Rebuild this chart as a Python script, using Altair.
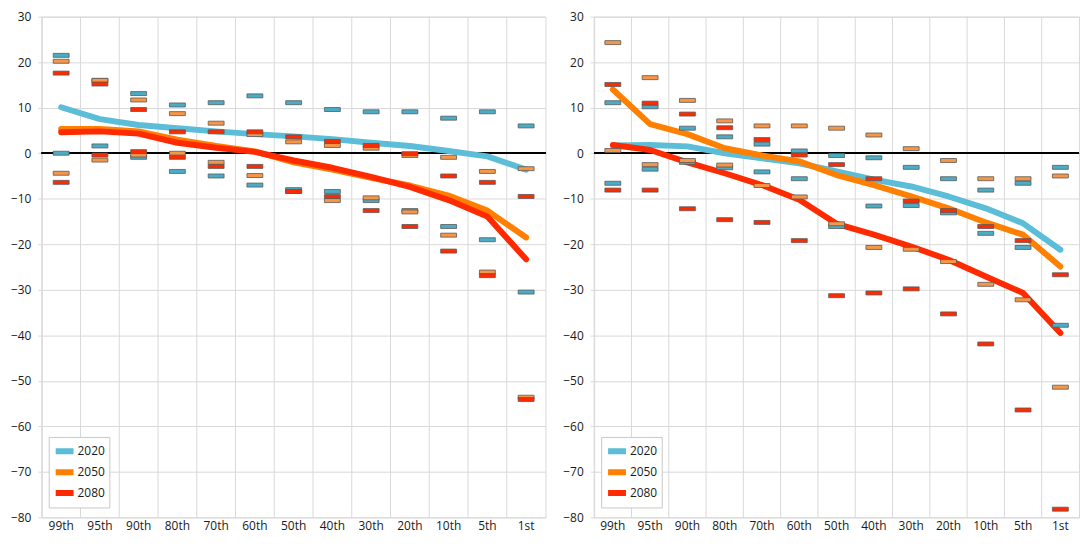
import altair as alt
import pandas as pd

categories = ["99th", "95th", "90th", "80th", "70th", "60th", "50th",
              "40th", "30th", "20th", "10th", "5th", "1st"]
series = ["2020", "2050", "2080"]

# ---- left panel: central lines ----
left_2020 = [10.1, 7.5, 6.2, 5.5, 4.8, 4.2, 3.7, 3.1, 2.3, 1.6, 0.5, -0.7, -3.6]
left_2050 = [5.3, 5.3, 4.8, 3.0, 1.6, 0.4, -2.0, -3.6, -5.4, -7.1, -9.3, -12.6, -18.5]
left_2080 = [4.6, 4.8, 4.3, 2.3, 1.2, 0.3, -1.6, -3.2, -5.2, -7.4, -10.3, -13.9, -23.3]
# ---- left panel: high / low markers ----
left_hi_2020 = [21.5, 16.0, 13.1, 10.6, 11.1, 12.6, 11.1, 9.6, 9.1, 9.1, 7.7, 9.1, 6.0]
left_lo_2020 = [0.0, 1.6, -0.9, -4.0, -5.0, -7.0, -8.0, -8.4, -10.4, -12.6, -16.1, -19.0, -30.5]
left_hi_2050 = [20.2, 16.0, 11.7, 8.7, 6.6, 4.1, 2.5, 1.7, 1.1, -0.5, -0.9, -4.0, -3.4]
left_lo_2050 = [-4.4, -1.5, -0.4, 0.0, -2.0, -4.9, -8.4, -10.4, -9.8, -12.9, -18.0, -26.1, -53.6]
left_hi_2080 = [17.6, 15.2, 9.6, 4.7, 4.7, 4.7, 3.6, 2.6, 1.7, -0.1, -5.0, -6.4, -9.5]
left_lo_2080 = [-6.4, -0.4, 0.35, -0.9, -2.9, -2.9, -8.4, -9.5, -12.6, -16.1, -21.5, -26.9, -54.1]

# ---- right panel: central lines ----
right_2020 = [1.7, 1.8, 1.5, 0.0, -1.1, -2.2, -4.0, -5.8, -7.3, -9.5, -12.1, -15.4, -21.2]
right_2050 = [14.0, 6.4, 4.2, 1.1, -0.5, -1.8, -4.8, -7.0, -9.5, -12.1, -15.2, -17.9, -24.9]
right_2080 = [1.8, 0.7, -2.0, -4.4, -7.0, -10.2, -15.5, -17.9, -20.5, -23.4, -27.1, -30.7, -39.5]
# ---- right panel: high / low markers ----
right_hi_2020 = [11.1, 10.2, 5.5, 3.6, 2.0, 0.5, -0.5, -1.0, -3.1, -5.6, -8.1, -6.6, -3.1]
right_lo_2020 = [-6.6, -3.5, -2.0, -3.2, -4.1, -5.6, -16.1, -11.6, -11.5, -13.1, -17.6, -20.7, -37.8]
right_hi_2050 = [24.3, 16.6, 11.6, 7.1, 6.0, 6.0, 5.5, 4.0, 1.0, -1.6, -5.6, -5.6, -5.0]
right_lo_2050 = [0.6, -2.5, -1.6, -2.6, -7.1, -9.6, -15.5, -20.7, -21.1, -23.8, -28.8, -32.2, -51.4]
right_hi_2080 = [15.1, 11.0, 8.6, 5.6, 3.0, -0.4, -2.5, -5.6, -10.5, -12.6, -16.1, -19.2, -26.7]
right_lo_2080 = [-8.1, -8.1, -12.2, -14.6, -15.2, -19.2, -31.3, -30.7, -29.8, -35.3, -41.9, -56.4, -78.2]

line_colors = ["#5bbdd7", "#ff8000", "#ff2a00"]
marker_colors = ["#4bacc6", "#f79646", "#ff2a00"]
FONT = "Open Sans"
GRID = "#d9d9d9"
LABEL = "#1a1a1a"


def x_enc(**kw):
    return alt.X(
        "cat:N", sort=categories,
        scale=alt.Scale(paddingInner=0, paddingOuter=0),
        axis=alt.Axis(title=None, labelAngle=0, ticks=False, domain=False, grid=False,
                      labelPadding=3, labelFontSize=12, labelFont=FONT, labelColor=LABEL),
        **kw,
    )


def y_enc():
    return alt.Y(
        "value:Q",
        scale=alt.Scale(domain=[-80, 30], nice=False, zero=False),
        axis=alt.Axis(title=None, values=list(range(-80, 31, 10)), grid=True,
                      gridColor=GRID, tickColor=GRID, tickSize=4, labelPadding=7,
                      domain=False, labelFontSize=12, labelFont=FONT, labelColor=LABEL),
    )


def panel(lines, his, los, width):
    lrows = []
    for s, vals in zip(series, lines):
        for c, v in zip(categories, vals):
            lrows.append({"cat": c, "series": s, "value": v})
    ldf = pd.DataFrame(lrows)
    mrows = []
    for s, hv, lv in zip(series, his, los):
        for c, h, l in zip(categories, hv, lv):
            mrows.append({"cat": c, "series": s, "value": h})
            mrows.append({"cat": c, "series": s, "value": l})
    mdf = pd.DataFrame(mrows)
    gdf = pd.DataFrame({"cat": categories})

    vgrid = alt.Chart(gdf).mark_rule(color=GRID, strokeWidth=1).encode(
        x=x_enc(bandPosition=0))
    zero = alt.Chart(gdf).mark_rule(color="#000000", strokeWidth=1.5).encode(
        y=alt.datum(0))
    line = alt.Chart(ldf).mark_line(strokeWidth=6, strokeCap="round", strokeJoin="round").encode(
        x=x_enc(), y=y_enc(),
        color=alt.Color("series:N", sort=series,
                        scale=alt.Scale(domain=series, range=line_colors),
                        legend=alt.Legend(title=None, orient="none", legendX=7, legendY=423,
                                          symbolType="stroke", symbolStrokeWidth=6,
                                          symbolSize=324, clipHeight=21,
                                          labelFontSize=12, labelFont=FONT,
                                          labelColor=LABEL, strokeColor="#c8c8c8",
                                          fillColor="#ffffff", padding=4, rowPadding=0,
                                          labelOffset=1)),
        order=alt.Order("series:N"),
    )
    marks = alt.Chart(mdf).mark_tick(orient="horizontal", thickness=4, size=16,
                                     stroke="#5a5a5a", strokeWidth=0.8, opacity=1).encode(
        x=x_enc(), y=y_enc(),
        fill=alt.Fill("series:N", scale=alt.Scale(domain=series, range=marker_colors),
                      legend=None),
    )
    return alt.layer(vgrid, zero, line, marks).properties(width=width, height=504)


left = panel([left_2020, left_2050, left_2080],
             [left_hi_2020, left_hi_2050, left_hi_2080],
             [left_lo_2020, left_lo_2050, left_lo_2080], 507)
right = panel([right_2020, right_2050, right_2080],
              [right_hi_2020, right_hi_2050, right_hi_2080],
              [right_lo_2020, right_lo_2050, right_lo_2080], 488)

chart = (
    alt.hconcat(left, right, spacing=14)
    .resolve_scale(color="independent", fill="independent")
    .resolve_legend(color="independent")
    .properties(padding={"left": 1, "top": 0, "right": 0, "bottom": 0})
    .configure_view(stroke=GRID)
)

chart.save("out.html", embed_options={"renderer": "svg", "actions": False})
